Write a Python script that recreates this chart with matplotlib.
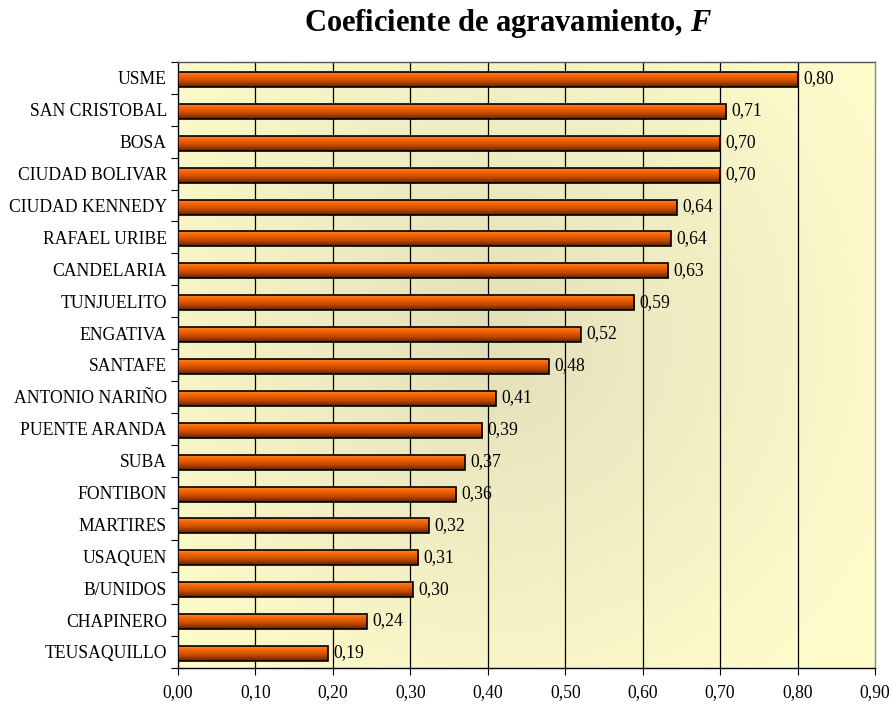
import numpy as np
import matplotlib.pyplot as plt
from matplotlib.colors import LinearSegmentedColormap
from matplotlib.patches import Rectangle

plt.rcParams['font.family'] = ['Liberation Serif', 'DejaVu Serif']
plt.rcParams['mathtext.fontset'] = 'custom'
plt.rcParams['mathtext.it'] = 'Liberation Serif:italic:bold'

localidades = ['USME', 'SAN CRISTOBAL', 'BOSA', 'CIUDAD BOLIVAR', 'CIUDAD KENNEDY',
               'RAFAEL URIBE', 'CANDELARIA', 'TUNJUELITO', 'ENGATIVA', 'SANTAFE',
               'ANTONIO NARIÑO', 'PUENTE ARANDA', 'SUBA', 'FONTIBON', 'MARTIRES',
               'USAQUEN', 'B/UNIDOS', 'CHAPINERO', 'TEUSAQUILLO']
F = [0.80, 0.708, 0.70, 0.70, 0.644, 0.636, 0.633, 0.589, 0.52, 0.479,
     0.41, 0.393, 0.37, 0.359, 0.324, 0.31, 0.303, 0.244, 0.193]
xticks = [0.0, 0.1, 0.2, 0.3, 0.4, 0.5, 0.6, 0.7, 0.8, 0.9]

fig = plt.figure(figsize=(8.92, 7.09), dpi=100)
ax = fig.add_axes([0.1996, 0.058, 0.7814, 0.8546])

# fondo con degradado radial
nx, ny = 300, 300
gx, gy = np.meshgrid(np.linspace(0, 1, nx), np.linspace(0, 1, ny))
r = np.sqrt(((gx - 0.45) / 0.65) ** 2 + ((gy - 0.45) / 0.75) ** 2)
r = np.clip(r, 0, 1) ** 0.9
c_centro = np.array([0.89, 0.87, 0.73])
c_borde = np.array([1.0, 0.99, 0.80])
bg = c_centro[None, None, :] * (1 - r[..., None]) + c_borde[None, None, :] * r[..., None]
ax.imshow(bg, extent=(0, 1, 0, 1), transform=ax.transAxes, aspect='auto', zorder=0)

# degradado de las barras
cmap = LinearSegmentedColormap.from_list('barra', [(0.0, '#ff8a2a'), (0.25, '#f56400'),
                                                   (0.6, '#c84c00'), (1.0, '#5e2400')])
grad = np.linspace(0, 1, 64).reshape(-1, 1)

h = 0.47
dy = 0.05
for i, v in enumerate(F):
    ax.imshow(grad, cmap=cmap, extent=(0, v, i + dy + h / 2, i + dy - h / 2), aspect='auto',
              origin='upper', zorder=3, interpolation='bilinear')
    ax.add_patch(Rectangle((0, i + dy - h / 2), v, h, fill=False, edgecolor='black',
                           linewidth=1.2, zorder=4))
    ax.text(v + 0.007, i + 0.03, ('%.2f' % v).replace('.', ','), va='center',
            ha='left', fontsize=12.7, zorder=5)

for x in xticks[1:-1]:
    ax.axvline(x, color='black', linewidth=0.9, zorder=1)

ax.set_xlim(0, 0.9)
ax.set_ylim(len(F) - 0.5, -0.5)
ax.set_xticks(xticks)
ax.set_xticklabels([('%.2f' % x).replace('.', ',') for x in xticks], fontsize=12.7)
ax.tick_params(axis='x', direction='out', length=5, pad=7)

ax.set_yticks(np.arange(len(F) + 1) - 0.5)
ax.set_yticklabels([])
ax.set_yticks(np.arange(len(F)), minor=True)
ax.set_yticklabels(localidades, minor=True, fontsize=12.7)
ax.tick_params(axis='y', which='major', direction='out', length=5)
ax.tick_params(axis='y', which='minor', length=0, pad=8)

ax.spines['left'].set_color('black')
ax.spines['bottom'].set_color('black')
ax.spines['top'].set_color('#555555')
ax.spines['right'].set_color('#888888')
for s in ax.spines.values():
    s.set_linewidth(1.0)

fig.text(0.57, 0.967, r'Coeficiente de agravamiento, $\mathit{F}$', ha='center', va='center',
         fontsize=22, fontweight='bold')

fig.savefig('out.png', dpi=100)
